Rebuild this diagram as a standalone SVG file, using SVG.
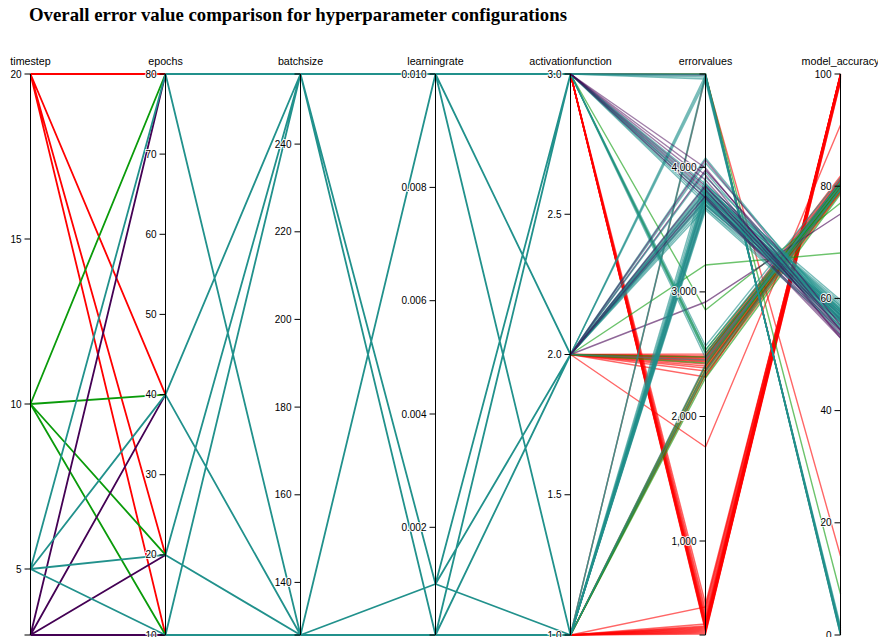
<svg xmlns="http://www.w3.org/2000/svg" width="878" height="637" viewBox="0 0 878 637">
<style>
  .bg { fill: #fff; }
  .title { font-family: "Liberation Serif", "Times New Roman", serif; font-weight: bold; font-size: 18.8px; fill: #000; }
  .seg { fill: none; stroke-width: 1.8; }
  .ln { fill: none; stroke-width: 1.4; stroke-opacity: 0.6; }
  .ln.top { stroke-opacity: 0.5; }
  .r { stroke: #ff0000; }
  .g { stroke: #0a9b0a; }
  .p { stroke: #440154; }
  .t { stroke: #21918c; }
  .axis path, .axis line { fill: none; stroke: #000; stroke-width: 1; }
  .axis text { font-family: "Liberation Sans", Arial, sans-serif; font-size: 10px; fill: #000; stroke: #fff; stroke-width: 2; stroke-opacity: 0.9; paint-order: stroke; }
  .axis text.name { font-size: 10.7px; text-anchor: middle; }
  .tick text { text-anchor: end; }
</style>
<rect class="bg" x="0" y="0" width="878" height="637"/>
<text id="title" class="title" x="29" y="21">Overall error value comparison for hyperparameter configurations</text>

<g id="connectors">
  <!-- timestep -> epochs -->
  <g id="seg-timestep-epochs">
    <path class="seg r" d="M30.5,74L165.5,74M30.5,74L165.5,394.6M30.5,74L165.5,554.9M30.5,74L165.5,635"/>
    <path class="seg g" d="M30.5,404L165.5,74M30.5,404L165.5,394.6M30.5,404L165.5,554.9M30.5,404L165.5,635"/>
    <path class="seg p" d="M30.5,635L165.5,74M30.5,635L165.5,394.6M30.5,635L165.5,554.9M30.5,635L165.5,635"/>
    <path class="seg t" d="M30.5,569L165.5,74M30.5,569L165.5,394.6M30.5,569L165.5,554.9M30.5,569L165.5,635"/>
  </g>
  <!-- epochs -> batchsize -> learningrate -> activationfunction -->
  <g id="seg-epochs-activation">
    <path class="seg t" d="M165.5,74L300.5,74M165.5,74L300.5,635M165.5,394.6L300.5,74M165.5,394.6L300.5,635M165.5,554.9L300.5,74M165.5,554.9L300.5,635M165.5,635L300.5,74M165.5,635L300.5,635"/>
    <path class="seg t" d="M300.5,74L435.5,74M300.5,74L435.5,584M300.5,74L435.5,635M300.5,635L435.5,74M300.5,635L435.5,584M300.5,635L435.5,635"/>
    <path class="seg t" d="M435.5,74L570.5,74M435.5,74L570.5,354.5M435.5,74L570.5,635M435.5,584L570.5,74M435.5,584L570.5,354.5M435.5,584L570.5,635M435.5,635L570.5,74M435.5,635L570.5,354.5M435.5,635L570.5,635"/>
  </g>
  <!-- activationfunction -> errorvalues -> model_accuracy, one polyline per run -->
  <g id="runs-red">
    <polyline class="ln r" points="570.5,74 705.5,604 840.5,79"/>
    <polyline class="ln r" points="570.5,74 705.5,610 840.5,75"/>
    <polyline class="ln r" points="570.5,74 705.5,614 840.5,77"/>
    <polyline class="ln r" points="570.5,74 705.5,618 840.5,74"/>
    <polyline class="ln r" points="570.5,74 705.5,620 840.5,75"/>
    <polyline class="ln r" points="570.5,74 705.5,622 840.5,76"/>
    <polyline class="ln r" points="570.5,74 705.5,624 840.5,74"/>
    <polyline class="ln r" points="570.5,74 705.5,625 840.5,77"/>
    <polyline class="ln r" points="570.5,74 705.5,627 840.5,78"/>
    <polyline class="ln r" points="570.5,74 705.5,628 840.5,76"/>
    <polyline class="ln r" points="570.5,74 705.5,629 840.5,80"/>
    <polyline class="ln r" points="570.5,74 705.5,630 840.5,75"/>
    <polyline class="ln r" points="570.5,74 705.5,631 840.5,82"/>
    <polyline class="ln r" points="570.5,635 705.5,624 840.5,74"/>
    <polyline class="ln r" points="570.5,635 705.5,626 840.5,76"/>
    <polyline class="ln r" points="570.5,635 705.5,627 840.5,75"/>
    <polyline class="ln r" points="570.5,635 705.5,628 840.5,78"/>
    <polyline class="ln r" points="570.5,635 705.5,629 840.5,74"/>
    <polyline class="ln r" points="570.5,635 705.5,630 840.5,77"/>
    <polyline class="ln r" points="570.5,635 705.5,631 840.5,79"/>
    <polyline class="ln r" points="570.5,635 705.5,632 840.5,76"/>
    <polyline class="ln r" points="570.5,635 705.5,633 840.5,81"/>
    <polyline class="ln r" points="570.5,635 705.5,634 840.5,74"/>
    <polyline class="ln r" points="570.5,635 705.5,607 840.5,78"/>
    <polyline class="ln r" points="570.5,635 705.5,76 840.5,556"/>
    <polyline class="ln r" points="570.5,74 705.5,74 840.5,632"/>
    <polyline class="ln r" points="570.5,354.5 705.5,447 840.5,125"/>
    <polyline class="ln r" points="570.5,354.5 705.5,354 840.5,176"/>
    <polyline class="ln r" points="570.5,354.5 705.5,356 840.5,178"/>
    <polyline class="ln r" points="570.5,354.5 705.5,357 840.5,180"/>
    <polyline class="ln r" points="570.5,354.5 705.5,358 840.5,182"/>
    <polyline class="ln r" points="570.5,354.5 705.5,359 840.5,183"/>
    <polyline class="ln r" points="570.5,354.5 705.5,360 840.5,184"/>
    <polyline class="ln r" points="570.5,354.5 705.5,361 840.5,185"/>
    <polyline class="ln r" points="570.5,354.5 705.5,362 840.5,186"/>
    <polyline class="ln r" points="570.5,354.5 705.5,364 840.5,188"/>
    <polyline class="ln r" points="570.5,354.5 705.5,366 840.5,190"/>
    <polyline class="ln r" points="570.5,354.5 705.5,368 840.5,192"/>
    <polyline class="ln r" points="570.5,354.5 705.5,371 840.5,186"/>
    <polyline class="ln r" points="570.5,354.5 705.5,377 840.5,180"/>
    <polyline class="ln r" points="570.5,635 705.5,365 840.5,180"/>
    <polyline class="ln r" points="570.5,635 705.5,369 840.5,184"/>
    <polyline class="ln r" points="570.5,635 705.5,372 840.5,188"/>
    <polyline class="ln r" points="570.5,635 705.5,375 840.5,192"/>
  </g>
  <g id="runs-green">
    <polyline class="ln g" points="570.5,354.5 705.5,265 840.5,253"/>
    <polyline class="ln g" points="570.5,74 705.5,310 840.5,203"/>
    <polyline class="ln g" points="570.5,74 705.5,74 840.5,594"/>
    <polyline class="ln g" points="570.5,354.5 705.5,357 840.5,182"/>
    <polyline class="ln g" points="570.5,354.5 705.5,363 840.5,187"/>
    <polyline class="ln g" points="570.5,74 705.5,350 840.5,185"/>
    <polyline class="ln g" points="570.5,74 705.5,353 840.5,190"/>
    <polyline class="ln g" points="570.5,635 705.5,366 840.5,183"/>
    <polyline class="ln g" points="570.5,635 705.5,370 840.5,186"/>
    <polyline class="ln g" points="570.5,635 705.5,374 840.5,190"/>
    <polyline class="ln g" points="570.5,635 705.5,378 840.5,194"/>
  </g>
  <g id="runs-purple-low">
    <polyline class="ln p" points="570.5,354.5 705.5,302 840.5,214"/>
    <polyline class="ln p" points="570.5,635 705.5,196 840.5,315"/>
    <polyline class="ln p" points="570.5,635 705.5,205 840.5,322"/>
    <polyline class="ln p" points="570.5,74 705.5,75 840.5,633"/>
    <polyline class="ln p" points="570.5,74 705.5,186 840.5,320"/>
    <polyline class="ln p" points="570.5,74 705.5,194 840.5,315"/>
    <polyline class="ln p" points="570.5,354.5 705.5,192 840.5,312"/>
    <polyline class="ln p" points="570.5,354.5 705.5,200 840.5,318"/>
    <polyline class="ln p" points="570.5,354.5 705.5,170 840.5,320"/>
  </g>
  <g id="runs-teal">
    <polyline class="ln t" points="570.5,74 705.5,184 840.5,306"/>
    <polyline class="ln t" points="570.5,74 705.5,188 840.5,310"/>
    <polyline class="ln t" points="570.5,74 705.5,192 840.5,314"/>
    <polyline class="ln t" points="570.5,74 705.5,195 840.5,318"/>
    <polyline class="ln t" points="570.5,74 705.5,198 840.5,322"/>
    <polyline class="ln t" points="570.5,74 705.5,201 840.5,326"/>
    <polyline class="ln t" points="570.5,74 705.5,204 840.5,312"/>
    <polyline class="ln t" points="570.5,354.5 705.5,185 840.5,300"/>
    <polyline class="ln t" points="570.5,354.5 705.5,188 840.5,304"/>
    <polyline class="ln t" points="570.5,354.5 705.5,190 840.5,308"/>
    <polyline class="ln t" points="570.5,354.5 705.5,192 840.5,312"/>
    <polyline class="ln t" points="570.5,354.5 705.5,194 840.5,316"/>
    <polyline class="ln t" points="570.5,354.5 705.5,196 840.5,320"/>
    <polyline class="ln t" points="570.5,354.5 705.5,198 840.5,324"/>
    <polyline class="ln t" points="570.5,354.5 705.5,200 840.5,310"/>
    <polyline class="ln t" points="570.5,354.5 705.5,202 840.5,314"/>
    <polyline class="ln t" points="570.5,354.5 705.5,205 840.5,318"/>
    <polyline class="ln t" points="570.5,354.5 705.5,208 840.5,328"/>
    <polyline class="ln t" points="570.5,635 705.5,188 840.5,302"/>
    <polyline class="ln t" points="570.5,635 705.5,190 840.5,306"/>
    <polyline class="ln t" points="570.5,635 705.5,192 840.5,310"/>
    <polyline class="ln t" points="570.5,635 705.5,194 840.5,314"/>
    <polyline class="ln t" points="570.5,635 705.5,196 840.5,318"/>
    <polyline class="ln t" points="570.5,635 705.5,198 840.5,322"/>
    <polyline class="ln t" points="570.5,635 705.5,200 840.5,326"/>
    <polyline class="ln t" points="570.5,635 705.5,202 840.5,308"/>
    <polyline class="ln t" points="570.5,635 705.5,204 840.5,312"/>
    <polyline class="ln t" points="570.5,635 705.5,206 840.5,316"/>
    <polyline class="ln t" points="570.5,635 705.5,208 840.5,320"/>
    <polyline class="ln t" points="570.5,635 705.5,210 840.5,330"/>
    <polyline class="ln t" points="570.5,354.5 705.5,158 840.5,322"/>
    <polyline class="ln t" points="570.5,354.5 705.5,163 840.5,316"/>
    <polyline class="ln t" points="570.5,354.5 705.5,172 840.5,328"/>
    <polyline class="ln t" points="570.5,635 705.5,177 840.5,310"/>
    <polyline class="ln t" points="570.5,635 705.5,183 840.5,334"/>
    <polyline class="ln t" points="570.5,74 705.5,346 840.5,178"/>
    <polyline class="ln t" points="570.5,74 705.5,350 840.5,182"/>
    <polyline class="ln t" points="570.5,74 705.5,354 840.5,186"/>
    <polyline class="ln t" points="570.5,74 705.5,358 840.5,190"/>
    <polyline class="ln t" points="570.5,635 705.5,364 840.5,181"/>
    <polyline class="ln t" points="570.5,635 705.5,371 840.5,189"/>
    <polyline class="ln t" points="570.5,354.5 705.5,360 840.5,185"/>
    <polyline class="ln t" points="570.5,74 705.5,74 840.5,635"/>
    <polyline class="ln t" points="570.5,74 705.5,75 840.5,633"/>
    <polyline class="ln t" points="570.5,74 705.5,77 840.5,630"/>
    <polyline class="ln t" points="570.5,74 705.5,79 840.5,628"/>
    <polyline class="ln t" points="570.5,635 705.5,74 840.5,635"/>
    <polyline class="ln t" points="570.5,635 705.5,77 840.5,631"/>
    <polyline class="ln t" points="570.5,354.5 705.5,75 840.5,634"/>
    <polyline class="ln t" points="570.5,354.5 705.5,78 840.5,631"/>
    <polyline class="ln t" points="570.5,354.5 705.5,81 840.5,626"/>
  </g>
  <!-- timestep-3 runs on the 3,800-error cluster, laid over the teal ones -->
  <g id="runs-purple-high">
    <polyline class="ln top p" points="570.5,74 705.5,180 840.5,330"/>
    <polyline class="ln top p" points="570.5,74 705.5,190 840.5,335"/>
    <polyline class="ln top p" points="570.5,74 705.5,198 840.5,338"/>
    <polyline class="ln top p" points="570.5,74 705.5,168 840.5,330"/>
    <polyline class="ln top p" points="570.5,74 705.5,175 840.5,338"/>
    <polyline class="ln top p" points="570.5,354.5 705.5,186 840.5,332"/>
    <polyline class="ln top p" points="570.5,354.5 705.5,196 840.5,336"/>
    <polyline class="ln top p" points="570.5,354.5 705.5,160 840.5,325"/>
  </g>
</g>

<!-- axes -->
<g id="axis-timestep" class="axis" transform="translate(30.5,0)">
  <path d="M-6,74H0V635H-6"/>
  <g class="tick"><line x1="-6" y1="239" x2="0" y2="239"/><line x1="-6" y1="404" x2="0" y2="404"/><line x1="-6" y1="569" x2="0" y2="569"/></g>
  <g class="tick"><text x="-9" y="77.5">20</text><text x="-9" y="242.5">15</text><text x="-9" y="407.5">10</text><text x="-9" y="572.5">5</text></g>
  <text class="name" x="0" y="65">timestep</text>
</g>
<g id="axis-epochs" class="axis" transform="translate(165.5,0)">
  <path d="M-6,74H0V635H-6"/>
  <g class="tick"><line x1="-6" y1="154.1" x2="0" y2="154.1"/><line x1="-6" y1="234.3" x2="0" y2="234.3"/><line x1="-6" y1="314.4" x2="0" y2="314.4"/><line x1="-6" y1="394.6" x2="0" y2="394.6"/><line x1="-6" y1="474.7" x2="0" y2="474.7"/><line x1="-6" y1="554.9" x2="0" y2="554.9"/></g>
  <g class="tick"><text x="-9" y="77.5">80</text><text x="-9" y="157.6">70</text><text x="-9" y="237.8">60</text><text x="-9" y="317.9">50</text><text x="-9" y="398.1">40</text><text x="-9" y="478.2">30</text><text x="-9" y="558.4">20</text><text x="-9" y="638.5">10</text></g>
  <text class="name" x="0" y="65">epochs</text>
</g>
<g id="axis-batchsize" class="axis" transform="translate(300.5,0)">
  <path d="M-6,74H0V635H-6"/>
  <g class="tick"><line x1="-6" y1="144.1" x2="0" y2="144.1"/><line x1="-6" y1="231.8" x2="0" y2="231.8"/><line x1="-6" y1="319.4" x2="0" y2="319.4"/><line x1="-6" y1="407.1" x2="0" y2="407.1"/><line x1="-6" y1="494.8" x2="0" y2="494.8"/><line x1="-6" y1="582.4" x2="0" y2="582.4"/></g>
  <g class="tick"><text x="-9" y="147.6">240</text><text x="-9" y="235.3">220</text><text x="-9" y="322.9">200</text><text x="-9" y="410.6">180</text><text x="-9" y="498.3">160</text><text x="-9" y="585.9">140</text></g>
  <text class="name" x="0" y="65">batchsize</text>
</g>
<g id="axis-learningrate" class="axis" transform="translate(435.5,0)">
  <path d="M-6,74H0V635H-6"/>
  <g class="tick"><line x1="-6" y1="187.4" x2="0" y2="187.4"/><line x1="-6" y1="300.7" x2="0" y2="300.7"/><line x1="-6" y1="414" x2="0" y2="414"/><line x1="-6" y1="527.3" x2="0" y2="527.3"/></g>
  <g class="tick"><text x="-9" y="77.5">0.010</text><text x="-9" y="190.9">0.008</text><text x="-9" y="304.2">0.006</text><text x="-9" y="417.5">0.004</text><text x="-9" y="530.8">0.002</text></g>
  <text class="name" x="0" y="65">learningrate</text>
</g>
<g id="axis-activationfunction" class="axis" transform="translate(570.5,0)">
  <path d="M-6,74H0V635H-6"/>
  <g class="tick"><line x1="-6" y1="214.25" x2="0" y2="214.25"/><line x1="-6" y1="354.5" x2="0" y2="354.5"/><line x1="-6" y1="494.75" x2="0" y2="494.75"/></g>
  <g class="tick"><text x="-9" y="77.5">3.0</text><text x="-9" y="217.75">2.5</text><text x="-9" y="358">2.0</text><text x="-9" y="498.25">1.5</text><text x="-9" y="638.5">1.0</text></g>
  <text class="name" x="0" y="65">activationfunction</text>
</g>
<g id="axis-errorvalues" class="axis" transform="translate(705.5,0)">
  <path d="M-6,74H0V635H-6"/>
  <g class="tick"><line x1="-6" y1="167.3" x2="0" y2="167.3"/><line x1="-6" y1="291.9" x2="0" y2="291.9"/><line x1="-6" y1="416.5" x2="0" y2="416.5"/><line x1="-6" y1="541" x2="0" y2="541"/></g>
  <g class="tick"><text x="-9" y="170.8">4,000</text><text x="-9" y="295.4">3,000</text><text x="-9" y="420">2,000</text><text x="-9" y="544.5">1,000</text></g>
  <text class="name" x="0" y="65">errorvalues</text>
</g>
<g id="axis-model_accuracy" class="axis" transform="translate(840.5,0)">
  <path d="M-6,74H0V635H-6"/>
  <g class="tick"><line x1="-6" y1="186.2" x2="0" y2="186.2"/><line x1="-6" y1="298.4" x2="0" y2="298.4"/><line x1="-6" y1="410.6" x2="0" y2="410.6"/><line x1="-6" y1="522.8" x2="0" y2="522.8"/></g>
  <g class="tick"><text x="-9" y="77.5">100</text><text x="-9" y="189.7">80</text><text x="-9" y="301.9">60</text><text x="-9" y="414.1">40</text><text x="-9" y="526.3">20</text><text x="-9" y="638.5">0</text></g>
  <text class="name" x="0" y="65">model_accuracy</text>
</g>
</svg>
